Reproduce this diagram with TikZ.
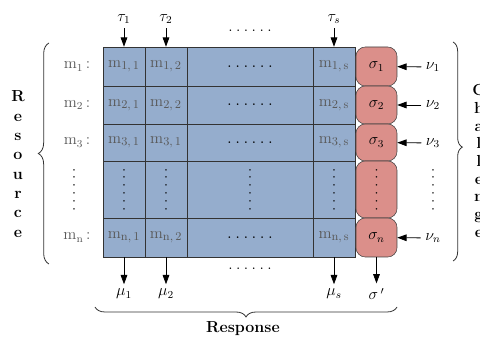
\documentclass[tikz,border=0pt]{standalone}
\usepackage{tikz}
\usetikzlibrary{arrows.meta,decorations.pathreplacing}
\definecolor{cellblue}{RGB}{149,173,205}
\definecolor{sigred}{RGB}{219,143,138}
\def\px{0.75pt}
\def\sixdots{.\kern2.6pt.\kern2.6pt.\kern2.6pt.\kern2.6pt.\kern2.6pt.}

\begin{document}
\begin{tikzpicture}[x=0.75pt, y=-0.75pt, font=\large,
    cell/.style={draw=black!80, fill=cellblue, inner sep=0pt, text=black!65, font=\fontsize{13}{15}\selectfont},
    narrow/.style={minimum width=42*\px},
    wide/.style={minimum width=126*\px},
    rowh/.style={minimum height=#1*\px},
    sigbox/.style={draw=black!75, fill=sigred, rounded corners=7pt, inner sep=0pt, minimum width=41*\px},
    arr/.style={-{Triangle[length=7pt,width=5pt]}, semithick},
    vdotsbox/.style={rotate=90, inner sep=0pt},
    brc/.style={decorate, decoration={brace, amplitude=#1}, draw=black!80, semithick}]
  \useasboundingbox (0,0) rectangle (480,338);

  %%%%% GRID %%%%%
  \node[cell, narrow, rowh=39] (c11) at (124,66.5) {$\mathrm{m}_{1,\,1}$};
  \node[cell, narrow, rowh=39] (c12) at (166,66.5) {$\mathrm{m}_{1,\,2}$};
  \node[cell, wide, rowh=39, text=black] (c13) at (250,66.5) {\sixdots};
  \node[cell, narrow, rowh=39] (c1s) at (334,66.5) {$\mathrm{m}_{1,\,\mathrm{s}}$};

  \node[cell, narrow, rowh=38] (c21) at (124,105) {$\mathrm{m}_{2,\,1}$};
  \node[cell, narrow, rowh=38] (c22) at (166,105) {$\mathrm{m}_{2,\,2}$};
  \node[cell, wide, rowh=38, text=black] (c23) at (250,105) {\sixdots};
  \node[cell, narrow, rowh=38] (c2s) at (334,105) {$\mathrm{m}_{2,\,\mathrm{s}}$};

  \node[cell, narrow, rowh=37] (c31) at (124,142.5) {$\mathrm{m}_{3,\,1}$};
  \node[cell, narrow, rowh=37] (c32) at (166,142.5) {$\mathrm{m}_{3,\,1}$};
  \node[cell, wide, rowh=37, text=black] (c33) at (250,142.5) {\sixdots};
  \node[cell, narrow, rowh=37] (c3s) at (334,142.5) {$\mathrm{m}_{3,\,\mathrm{s}}$};

  \node[cell, narrow, rowh=57] (c41) at (124,189.5) {};
  \node[cell, narrow, rowh=57] (c42) at (166,189.5) {};
  \node[cell, wide, rowh=57] (c43) at (250,189.5) {};
  \node[cell, narrow, rowh=57] (c4s) at (334,189.5) {};
  \node[vdotsbox] at (c41) {\sixdots};
  \node[vdotsbox] at (c42) {\sixdots};
  \node[vdotsbox] at (c43) {\sixdots};
  \node[vdotsbox] at (c4s) {\sixdots};

  \node[cell, narrow, rowh=39] (c51) at (124,237.5) {$\mathrm{m}_{\mathrm{n},\,1}$};
  \node[cell, narrow, rowh=39] (c52) at (166,237.5) {$\mathrm{m}_{\mathrm{n},\,2}$};
  \node[cell, wide, rowh=39, text=black] (c53) at (250,237.5) {\sixdots};
  \node[cell, narrow, rowh=39] (c5s) at (334,237.5) {$\mathrm{m}_{\mathrm{n},\,\mathrm{s}}$};

  %%%%% SIGMA %%%%%
  \node[sigbox, rowh=39] (sig1) at (376.5,66.5) {$\sigma_1$};
  \node[sigbox, rowh=38] (sig2) at (376.5,105) {$\sigma_2$};
  \node[sigbox, rowh=37] (sig3) at (376.5,142.5) {$\sigma_3$};
  \node[sigbox, rowh=57] (sig4) at (376.5,189.5) {};
  \node[vdotsbox] at (sig4) {\sixdots};
  \node[sigbox, rowh=39] (sign) at (376.5,237.5) {$\sigma_n$};

  %%%%% ROW LABELS %%%%%
  \node[text=black!65] (m1) at (77,66.5) {$\mathrm{m}_1$\,:};
  \node[text=black!65] (m2) at (77,105) {$\mathrm{m}_2$\,:};
  \node[text=black!65] (m3) at (77,142.5) {$\mathrm{m}_3$\,:};
  \node[vdotsbox] (m4) at (74,189.5) {\sixdots};
  \node[text=black!65] (mn) at (77,237.5) {$\mathrm{m}_\mathrm{n}$\,:};

  %%%%% TOP %%%%%
  \node (t1) at (124,19) {$\tau_1$};
  \node (t2) at (166,19) {$\tau_2$};
  \node (ts) at (334,19) {$\tau_s$};
  \node (tdots) at (250,31) {\sixdots};
  \draw[arr] (t1) -- (c11);
  \draw[arr] (t2) -- (c12);
  \draw[arr] (ts) -- (c1s);

  %%%%% RIGHT %%%%%
  \node (nu1) at (433,67) {$\nu_1$};
  \node (nu2) at (433,105) {$\nu_2$};
  \node (nu3) at (433,143) {$\nu_3$};
  \node[vdotsbox] (nu4) at (433,189.5) {\sixdots};
  \node (nun) at (433,238) {$\nu_n$};
  \draw[arr] (nu1) -- (sig1);
  \draw[arr] (nu2) -- (sig2);
  \draw[arr] (nu3) -- (sig3);
  \draw[arr] (nun) -- (sign);

  %%%%% BOTTOM %%%%%
  \node (mu1) at (124,294) {$\mu_1$};
  \node (mu2) at (166,294) {$\mu_2$};
  \node (mus) at (334,294) {$\mu_s$};
  \node (sigp) at (376.5,294) {$\sigma\,'$};
  \node (bdots) at (250,269) {\sixdots};
  \draw[arr] (c51) -- (mu1);
  \draw[arr] (c52) -- (mu2);
  \draw[arr] (c5s) -- (mus);
  \draw[arr] (sign) -- (sigp);

  %%%%% BRACES %%%%%
  \coordinate (lb1) at (49,264);
  \coordinate (lb2) at (49,43);
  \coordinate (rb1) at (453,42);
  \coordinate (rb2) at (453,261);
  \coordinate (bb1) at (397,307);
  \coordinate (bb2) at (95,307);
  \draw[brc=8pt] (lb1) -- (lb2);
  \draw[brc=7pt, decoration={aspect=0.48}] (rb1) -- (rb2);
  \draw[brc=7.5pt] (bb1) -- (bb2);

  \node[font=\bfseries\fontsize{12}{14.5}\selectfont, align=center] (resource) at (18,164) {R\\e\\s\\o\\u\\r\\c\\e};
  \node[font=\bfseries\fontsize{12}{13.3}\selectfont, align=center] (challenge) at (479,161) {C\\h\\a\\l\\l\\e\\n\\g\\e};
  \node[font=\bfseries\large] (response) at (243,329) {Response};
\end{tikzpicture}
\end{document}
